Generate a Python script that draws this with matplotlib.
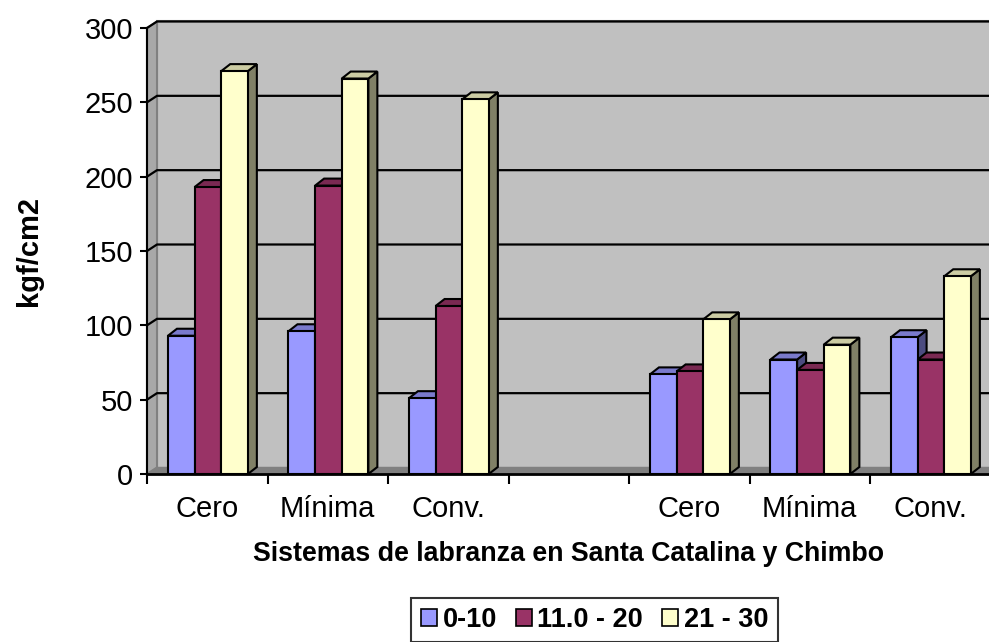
import numpy as np
import matplotlib.pyplot as plt
from matplotlib.patches import Polygon, Rectangle

plt.rcParams['font.family'] = ['Liberation Sans', 'DejaVu Sans']

categories = ['Cero', 'Mínima', 'Conv.', '', 'Cero', 'Mínima', 'Conv.']
series_names = ['0-10', '11.0 - 20', '21 - 30']
depth_0_10 = [93, 96, 51, None, 67, 77, 92]
depth_11_20 = [193, 194, 113, None, 69, 70, 77]
depth_21_30 = [271, 266, 252, None, 104, 87, 133]

front_colors = ['#9999FF', '#993366', '#FFFFCC']
top_colors = ['#7A7ACC', '#7A2952', '#CCCCA3']
side_colors = ['#4C4C80', '#4C1933', '#808066']

fig = plt.figure(figsize=(9.89, 6.42), dpi=100)
W, H = 989, 642
x_left, y_bottom, y_top = 147, 474, 28
cat_px = 120.5
ax = fig.add_axes([x_left / W, (H - y_bottom) / H, 7 * cat_px / W, (y_bottom - y_top) / H])
ax.set_xlim(0, 7)
ax.set_ylim(0, 300)

px_x = 7 / (7 * cat_px)
px_y = 300 / (y_bottom - y_top)

# depth offsets for the walls and the bars
wx, wy = 10 * px_x, 6.5 * px_y
bx, by = 9 * px_x, 7 * px_y

for s in ax.spines.values():
    s.set_visible(False)

# walls and floor
ax.add_patch(Polygon([(wx, wy), (7 + wx, wy), (7 + wx, 300 + wy), (wx, 300 + wy)],
                     closed=True, facecolor='#C0C0C0', edgecolor='#808080', lw=1.5,
                     clip_on=False, zorder=0))
ax.add_patch(Polygon([(0, 0), (wx, wy), (wx, 300 + wy), (0, 300)],
                     closed=True, facecolor='#A8A8A8', edgecolor='#808080', lw=1.5,
                     clip_on=False, zorder=0.5))
ax.add_patch(Polygon([(0, 0), (7, 0), (7 + wx, wy), (wx, wy)],
                     closed=True, facecolor='#808080', edgecolor='#808080', lw=1,
                     clip_on=False, zorder=0.5))

for v in range(50, 301, 50):
    ax.plot([0, wx, 7 + wx], [v, v + wy, v + wy], color='black', lw=1.6,
            clip_on=False, zorder=1, solid_capstyle='butt')

# 3-D looking columns
bar_w = 0.221
offset = 0.174
for c in range(len(categories)):
    for i, vals in enumerate([depth_0_10, depth_11_20, depth_21_30]):
        v = vals[c]
        if v is None:
            continue
        x0 = c + offset + i * bar_w
        z = 2 + c * 0.1 + i * 0.01
        ax.add_patch(Polygon([(x0 + bar_w, 0), (x0 + bar_w + bx, by), (x0 + bar_w + bx, v + by),
                              (x0 + bar_w, v)], closed=True, facecolor=side_colors[i],
                             edgecolor='black', lw=1.5, zorder=z, clip_on=False))
        ax.add_patch(Polygon([(x0, v), (x0 + bar_w, v), (x0 + bar_w + bx, v + by), (x0 + bx, v + by)],
                             closed=True, facecolor=top_colors[i], edgecolor='black', lw=1.5,
                             zorder=z, clip_on=False))
        ax.add_patch(Rectangle((x0, 0), bar_w, v, facecolor=front_colors[i], edgecolor='black',
                               lw=1.5, zorder=z + 0.001, clip_on=False))

# front axes lines
ax.plot([0, 0], [0, 300], color='black', lw=1.5, clip_on=False, zorder=5)
ax.plot([0, 7], [0, 0], color='black', lw=2, clip_on=False, zorder=5)

ax.set_yticks(range(0, 301, 50))
ax.tick_params(axis='y', labelsize=21, length=5, width=1.5, pad=5, direction='out')
ax.set_xticks(range(0, 8))
ax.set_xticklabels([])
ax.set_xticks(np.arange(7) + 0.5, minor=True)
ax.set_xticklabels(categories, minor=True)
ax.tick_params(axis='x', which='major', length=7, width=1.5, direction='out')
ax.tick_params(axis='x', which='minor', length=0, labelsize=21, pad=15)

ax.set_xlabel('Sistemas de labranza en Santa Catalina y Chimbo', fontsize=19.3,
              fontweight='bold', labelpad=13)
ax.set_ylabel('kgf/cm2', fontsize=21, fontweight='bold', labelpad=30)

handles = [Rectangle((0, 0), 1, 1, facecolor=col, edgecolor='black', lw=1.2) for col in front_colors]
leg = fig.legend(handles, series_names, loc='center', bbox_to_anchor=(594.5 / W, 1 - 620 / H),
                 ncol=3, frameon=True, fancybox=False, edgecolor='black',
                 prop={'weight': 'bold', 'size': 19.5}, handlelength=0.6, handleheight=0.6,
                 handletextpad=0.2, columnspacing=0.7, borderpad=0.35, borderaxespad=0)
leg.get_frame().set_linewidth(1.5)

fig.savefig('out.png', dpi=100)
